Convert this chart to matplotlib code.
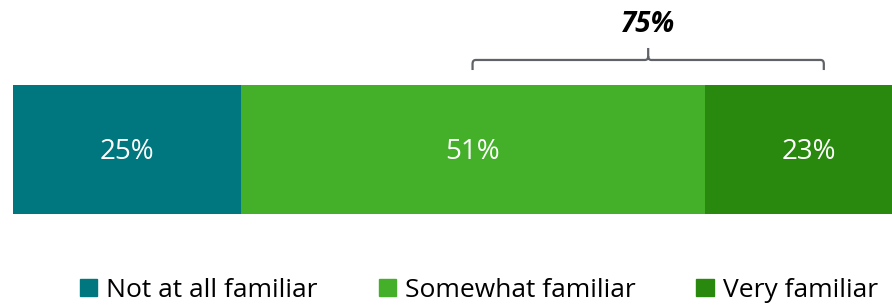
import matplotlib.pyplot as plt
from matplotlib.patches import Patch
from matplotlib.path import Path
from matplotlib.patches import PathPatch

plt.rcParams['font.family'] = ['Open Sans', 'DejaVu Sans']

categories = ['Not at all familiar', 'Somewhat familiar', 'Very familiar']
values = [25, 51, 23]
labels = ['25%', '51%', '23%']
colors = ['#00767e', '#44b02a', '#29880e']
bracket_label = '75%'
bracket_span = (50.5, 89.1)

fig = plt.figure(figsize=(8.92, 3.08), dpi=100)
ax = fig.add_axes([13 / 892, 94 / 308, 879 / 892, 129 / 308])

left = 0
for cat, v, lab, c in zip(categories, values, labels, colors):
    ax.barh(0, v, left=left, height=1, color=c, label=cat)
    ax.text(left + v / 2, -0.02, lab, ha='center', va='center', color='white', fontsize=20)
    left += v

ax.set_xlim(0, 879 / 9.1)
ax.set_ylim(-0.5, 0.5)
ax.axis('off')

# bracket above the bar
x0, x1 = bracket_span
xc = (x0 + x1) / 2
yb, yh, yt = 1.116, 1.194, 1.287
dx = 0.35
dy = 0.03
verts = [(x0, yb), (x0, yh - dy), (x0, yh), (x0 + dx, yh),
         (xc - dx, yh), (xc, yh), (xc, yh + dy), (xc, yt),
         (xc, yh + dy), (xc, yh), (xc + dx, yh),
         (x1 - dx, yh), (x1, yh), (x1, yh - dy), (x1, yb)]
codes = [Path.MOVETO, Path.LINETO, Path.CURVE3, Path.CURVE3,
         Path.LINETO, Path.CURVE3, Path.CURVE3, Path.LINETO,
         Path.MOVETO, Path.CURVE3, Path.CURVE3,
         Path.LINETO, Path.CURVE3, Path.CURVE3, Path.LINETO]
ax.add_patch(PathPatch(Path(verts, codes), transform=ax.get_xaxis_transform(),
                       fill=False, edgecolor='#5f6368', lw=1.6, clip_on=False))
ax.text(xc, 1.47, bracket_label, transform=ax.get_xaxis_transform(),
        ha='center', va='center', fontsize=20, fontweight='bold', fontstyle='italic')

handles = [Patch(color=c, label=cat) for cat, c in zip(categories, colors)]
fig.legend(handles=handles, loc='center', bbox_to_anchor=(0.537, 0.058), ncol=3,
           frameon=False, fontsize=19, handlelength=0.65, handleheight=0.65,
           handletextpad=0.35, columnspacing=2.3, borderpad=0, borderaxespad=0)

fig.savefig('out.png', dpi=100)
